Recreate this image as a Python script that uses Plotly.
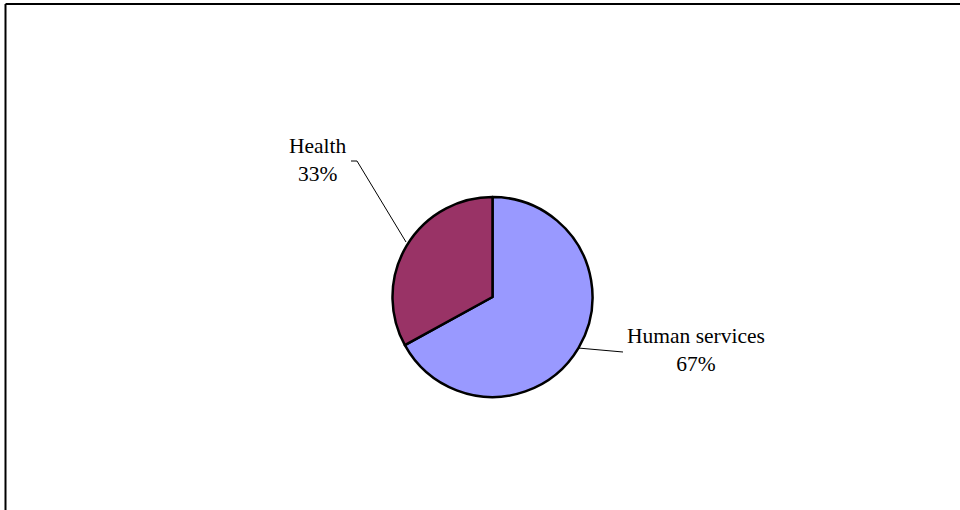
import plotly.graph_objects as go

labels = ["Human services", "Health"]
values = [67, 33]
colors = ["#9999FF", "#993366"]

W, H = 960, 510
cx, cy, r = 492.5, 297, 100

def px(x):
    return x / W

def py(y):
    return 1 - y / H

total = sum(values)
pcts = [round(v / total * 100) for v in values]

fig = go.Figure(go.Pie(
    labels=labels,
    values=values,
    sort=False,
    direction="clockwise",
    rotation=0,
    marker=dict(colors=colors, line=dict(color="black", width=2.5)),
    textinfo="none",
    hoverinfo="label+percent",
    showlegend=False,
    domain=dict(x=[px(cx - r), px(cx + r)], y=[py(cy + r), py(cy - r)]),
))

font = dict(family="Liberation Serif, Times New Roman, serif", size=21.5, color="black")
label_pos = {"Human services": (696, 350), "Health": (318, 160)}
annotations = []
for lab, p in zip(labels, pcts):
    x, y = label_pos[lab]
    annotations.append(dict(
        x=px(x), y=py(y), xref="paper", yref="paper",
        text=f"{lab}<br>{p}%", showarrow=False, font=font,
        xanchor="center", yanchor="middle", align="center",
    ))

shapes = [
    # leader lines
    dict(type="path", xref="paper", yref="paper",
         path=f"M {px(351)},{py(161)} L {px(357)},{py(161)} L {px(406)},{py(242)}",
         line=dict(color="black", width=1)),
    dict(type="line", xref="paper", yref="paper",
         x0=px(578), y0=py(348), x1=px(623), y1=py(352),
         line=dict(color="black", width=1)),
    # outer border (top and left visible)
    dict(type="line", xref="paper", yref="paper",
         x0=px(5.5), y0=py(4), x1=px(962), y1=py(4),
         line=dict(color="black", width=2)),
    dict(type="line", xref="paper", yref="paper",
         x0=px(5.5), y0=py(4), x1=px(5.5), y1=py(515),
         line=dict(color="black", width=2)),
]

fig.update_layout(
    width=W, height=H,
    margin=dict(l=0, r=0, t=0, b=0),
    paper_bgcolor="white", plot_bgcolor="white",
    annotations=annotations,
    shapes=shapes,
)

fig.write_html("out.html")
